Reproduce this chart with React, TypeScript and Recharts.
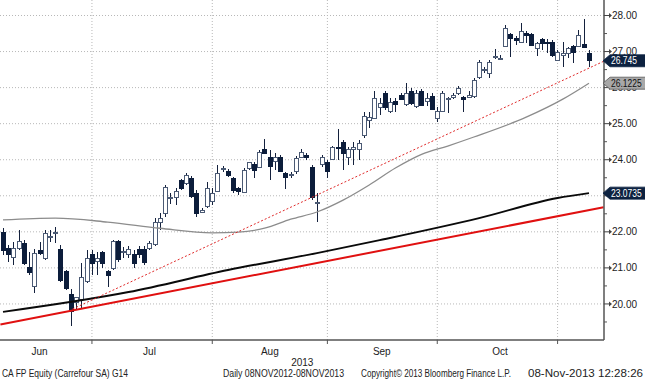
import React from "react";
import {
    ComposedChart,
    Bar,
    Line,
    XAxis,
    YAxis,
    CartesianGrid,
    ReferenceLine,
} from "recharts";

// daily OHLC, CA FP (Carrefour), early Jun -> 08 Nov 2013
const opens = [
    21.97, 21.55, 21.30, 21.55, 21.69, 21.02, 20.47, 21.47, 21.27, 21.83, 21.96, 21.50, 20.89, 20.25, 20.05, 20.11, 20.61,
    21.36, 21.19, 21.44, 20.91, 20.97, 21.72, 21.43, 21.38, 21.36, 21.52, 21.52, 21.55, 21.66, 22.27, 22.52, 22.92, 22.94, 23.41, 23.35, 23.49, 23.05, 22.55, 22.71, 22.85,
    23.13, 23.73, 23.66, 23.49, 23.19, 23.10, 23.77, 23.88, 23.79, 24.27, 24.07, 23.96, 24.07, 23.63, 23.57, 23.66, 24.07, 24.13, 23.79, 22.79, 23.88,
    23.91, 24.02, 24.35, 24.49, 24.07, 24.27, 24.29, 24.68, 25.10, 25.15, 25.46, 25.84, 25.35, 25.62, 25.79, 25.54, 25.90, 25.48, 25.90, 25.62,
    25.76, 25.15, 25.35, 25.67, 25.73, 25.84, 25.73, 25.73, 25.76, 26.29, 26.50, 26.40, 26.86, 26.81, 27.15, 27.48, 27.37, 27.26, 27.51, 27.48, 27.09,
    27.34, 27.26, 27.26, 26.76, 26.90, 26.95, 27.15, 27.15, 27.20, 26.95,
];
const highs = [
    22.10, 21.63, 21.72, 22.05, 21.77, 21.44, 21.52, 21.72, 22.05, 22.05, 22.13, 21.63, 20.94, 20.42, 20.19, 21.13, 21.50,
    21.50, 21.44, 21.46, 20.94, 21.77, 21.77, 21.58, 21.61, 21.50, 21.61, 21.61, 21.74, 22.38, 22.52, 23.30, 23.07, 23.21, 23.46, 23.63, 23.55, 23.16, 22.66, 23.38, 23.21,
    23.85, 23.82, 23.74, 23.52, 23.24, 23.77, 23.93, 23.93, 24.27, 24.57, 24.27, 24.18, 24.13, 23.66, 23.66, 24.10, 24.29, 24.18, 23.85, 23.07, 24.13,
    23.99, 24.38, 24.85, 24.54, 24.35, 24.49, 24.54, 25.32, 25.32, 25.90, 25.71, 25.90, 25.71, 25.71, 25.84, 26.12, 25.98, 25.93, 25.95, 25.84,
    25.84, 25.46, 25.90, 25.73, 25.84, 26.04, 25.76, 25.90, 26.26, 26.76, 26.56, 26.76, 27.06, 26.90, 27.73, 27.51, 27.42, 27.78, 27.56, 27.51, 27.26,
    27.37, 27.34, 27.31, 27.04, 27.26, 27.12, 27.17, 27.59, 27.89, 27.04,
];
const lows = [
    21.36, 21.16, 21.08, 21.50, 21.08, 20.80, 20.30, 21.36, 21.22, 21.72, 21.69, 20.61, 20.39, 19.39, 19.83, 19.89, 20.58,
    20.80, 20.80, 21.00, 20.47, 20.94, 21.16, 21.27, 21.27, 21.00, 21.27, 21.08, 21.50, 21.61, 22.05, 22.41, 22.77, 22.74, 23.16, 23.30, 22.94, 22.41, 22.52, 22.66, 22.74,
    23.10, 23.66, 23.52, 23.07, 23.02, 23.07, 23.71, 23.49, 23.77, 24.15, 23.43, 23.71, 23.66, 23.19, 23.49, 23.60, 24.04, 23.99, 22.88, 22.27, 23.79,
    23.49, 23.99, 23.99, 23.71, 23.85, 23.85, 23.99, 24.60, 24.87, 25.12, 25.23, 25.37, 25.29, 25.32, 25.65, 25.48, 25.51, 25.43, 25.48, 25.48,
    25.37, 25.04, 25.32, 25.29, 25.68, 25.79, 25.32, 25.71, 25.71, 26.23, 26.40, 26.26, 26.79, 26.76, 27.13, 26.84, 27.17, 27.23, 27.23, 27.15, 26.87,
    27.04, 26.95, 26.84, 26.74, 26.56, 26.81, 26.68, 27.12, 27.12, 26.56,
];
const closes = [
    21.49, 21.36, 21.55, 21.72, 21.13, 20.86, 21.41, 21.41, 21.94, 21.86, 21.98, 20.64, 20.42, 19.78, 20.17, 20.72, 21.27,
    21.13, 21.27, 21.13, 20.80, 21.74, 21.22, 21.46, 21.50, 21.13, 21.36, 21.16, 21.69, 22.27, 22.38, 23.24, 22.94, 23.13, 23.19, 23.55, 22.99, 22.52, 22.60, 23.19, 23.07,
    23.63, 23.75, 23.55, 23.16, 23.13, 23.71, 23.91, 23.71, 24.21, 24.18, 23.82, 24.07, 23.68, 23.52, 23.58, 24.04, 24.21, 24.07, 22.94, 22.82, 24.07,
    23.68, 24.35, 24.33, 24.18, 24.29, 24.35, 24.46, 25.21, 25.18, 25.71, 25.57, 25.46, 25.60, 25.54, 25.68, 25.84, 25.57, 25.84, 25.51, 25.71,
    25.40, 25.35, 25.84, 25.69, 25.79, 25.98, 25.68, 25.79, 26.20, 26.70, 26.51, 26.70, 26.87, 26.82, 27.64, 27.37, 27.31, 27.56, 27.45, 27.17, 27.23,
    27.23, 27.23, 26.90, 26.98, 26.95, 27.09, 26.98, 27.45, 27.12, 26.745,
];

// moving averages (bar index -> value)
const grayMaIdx = [0, 10, 20, 30, 40, 45, 50, 55, 60, 65, 70, 75, 80, 85, 90, 100, 107, 112];
const grayMaVal = [22.33, 22.38, 22.27, 22.10, 21.97, 21.99, 22.10, 22.35, 22.55, 22.88, 23.30, 23.77, 24.15, 24.38, 24.63, 25.18, 25.68, 26.1225];
const blackMaIdx = [0, 24, 43, 60, 72, 91, 106, 112];
const blackMaVal = [19.78, 20.33, 20.94, 21.41, 21.77, 22.38, 22.94, 23.0735];

// hand drawn trend lines
const trendSolid = [{ i: -0.5, v: 19.43 }, { i: 114.8, v: 22.68 }];
const trendDotted = [{ i: 13.3, v: 19.86 }, { i: 114.8, v: 26.73 }];

const monthStarts = [17, 40, 62, 83, 106];
const monthNames = ["Jun", "Jul", "Aug", "Sep", "Oct"];
const monthLabelPos = [7.0, 28.0, 51.0, 72.4, 95.0];
const yearLabel = "2013";
const yearLabelPos = 57.2;

const yMajor = [20, 21, 22, 23, 24, 25, 26, 27, 28];
const yMinor = [19.5, 20.5, 21.5, 22.5, 23.5, 24.5, 25.5, 26.5, 27.5];

const tagValues = [26.745, 26.1225, 23.0735];
const tagTexts = ["26.745", "26.1225", "23.0735"];
const tagFills = ["#0d2240", "#a8a8a8", "#0d2240"];
const tagColors = ["#ffffff", "#111111", "#ffffff"];

const rows = opens.map((o, i) => {
    const g = grayMaIdx.indexOf(i);
    const b = blackMaIdx.indexOf(i);
    return {
        i,
        o,
        h: highs[i],
        l: lows[i],
        c: closes[i],
        range: [lows[i], highs[i]],
        gma: g >= 0 ? grayMaVal[g] : null,
        bma: b >= 0 ? blackMaVal[b] : null,
    };
});

const FONT = "Liberation Sans, Arial, sans-serif";

const Candle = (props: any) => {
    const { x, y, width, height, payload } = props;
    const { o, h, l, c } = payload;
    const top = Math.min(y, y + height);
    const span = Math.abs(height);
    const py = (v: number) => (h === l ? top : top + ((h - v) / (h - l)) * span);
    const cx = Math.round(x + width / 2);
    const up = c >= o;
    const bTop = py(Math.max(o, c));
    const bBot = py(Math.min(o, c));
    return (
        <g shapeRendering="crispEdges">
            <line x1={cx + 0.5} x2={cx + 0.5} y1={top} y2={top + span} stroke="#14213d" strokeWidth={1} />
            <rect
                x={cx - 1.5}
                y={bTop}
                width={4}
                height={Math.max(bBot - bTop, 1)}
                fill={up ? "#ffffff" : "#0c1d3b"}
                stroke={up ? "#4b5a74" : "#0c1d3b"}
                strokeWidth={1}
            />
        </g>
    );
};

const XTick = (props: any) => {
    const { x, y, payload } = props;
    const v = payload.value;
    const k = monthLabelPos.indexOf(v);
    if (k >= 0) {
        return (
            <text x={x} y={y + 15} textAnchor="middle" fontSize={10} fill="#222" fontFamily={FONT}>
                {monthNames[k]}
            </text>
        );
    }
    if (v === yearLabelPos) {
        return (
            <text x={x} y={y + 26} textAnchor="middle" fontSize={10} fill="#222" fontFamily={FONT}>
                {yearLabel}
            </text>
        );
    }
    return <line x1={x} x2={x} y1={y} y2={y + 4} stroke="#555" strokeWidth={1} />;
};

// right axis: minor ticks, labelled major ticks, then the price tags drawn last (on top)
const YTick = (props: any) => {
    const { x, y, payload } = props;
    const v = payload.value;
    const t = tagValues.indexOf(v);
    if (t >= 0) {
        const text = tagTexts[t];
        const digits = text.replace(".", "").length;
        return (
            <g>
                <path
                    d={`M${x - 1},${y} L${x + 6},${y - 6} H${x + 44} V${y + 6} H${x + 6} Z`}
                    fill={tagFills[t]}
                    stroke={tagFills[t] === "#a8a8a8" ? "#555" : tagFills[t]}
                    strokeWidth={0.8}
                />
                <text
                    x={x + 7}
                    y={y}
                    dy="0.36em"
                    fontSize={10}
                    fill={tagColors[t]}
                    fontFamily={FONT}
                    textLength={digits * 4.7 + 2.5}
                    lengthAdjust="spacingAndGlyphs"
                >
                    {text}
                </text>
            </g>
        );
    }
    if (yMinor.includes(v)) {
        return <line x1={x} x2={x + 3} y1={y} y2={y} stroke="#555" strokeWidth={1} />;
    }
    return (
        <g>
            <line x1={x} x2={x + 5} y1={y} y2={y} stroke="#444" strokeWidth={1} />
            <path d={`M${x + 5},${y - 2.5}L${x + 8},${y}L${x + 5},${y + 2.5}Z`} fill="#444" />
            <text x={x + 8} y={y} dy="0.36em" fontSize={10} fill="#222" fontFamily={FONT}>
                {v.toFixed(2)}
            </text>
        </g>
    );
};

export default function App() {
    return (
        <div style={{ position: "absolute", left: 0, top: 0, width: 645, height: 380, background: "#fff", fontFamily: FONT }}>
            <ComposedChart width={645} height={380} data={rows} margin={{ top: 0, right: 0, bottom: 0, left: 0 }}>
                <CartesianGrid
                    horizontalValues={yMajor}
                    verticalValues={monthStarts}
                    stroke="#b8b8b8"
                    strokeDasharray="1 2"
                />
                <XAxis
                    dataKey="i"
                    type="number"
                    domain={[-0.573, 114.87]}
                    allowDataOverflow
                    ticks={[...monthStarts, ...monthLabelPos, yearLabelPos]}
                    interval={0}
                    tick={<XTick />}
                    tickLine={false}
                    tickSize={0}
                    tickMargin={0}
                    axisLine={{ stroke: "#555", strokeWidth: 1.5 }}
                    height={40}
                />
                <YAxis
                    orientation="right"
                    type="number"
                    domain={[19.0, 28.43]}
                    allowDataOverflow
                    ticks={[...yMinor, ...yMajor, ...tagValues]}
                    interval={0}
                    tick={<YTick />}
                    tickLine={false}
                    tickSize={0}
                    tickMargin={0}
                    axisLine={{ stroke: "#555", strokeWidth: 1.5 }}
                    width={41}
                />
                <Bar dataKey="range" barSize={5} shape={<Candle />} isAnimationActive={false} />
                <Line
                    dataKey="gma"
                    type="monotone"
                    connectNulls
                    stroke="#8c8c8c"
                    strokeWidth={1.3}
                    dot={false}
                    activeDot={false}
                    isAnimationActive={false}
                />
                <Line
                    dataKey="bma"
                    type="monotone"
                    connectNulls
                    stroke="#0a0a0a"
                    strokeWidth={2}
                    dot={false}
                    activeDot={false}
                    isAnimationActive={false}
                />
                <ReferenceLine
                    segment={trendSolid.map((p) => ({ x: p.i, y: p.v }))}
                    stroke="#e01010"
                    strokeWidth={2}
                />
                <ReferenceLine
                    segment={trendDotted.map((p) => ({ x: p.i, y: p.v }))}
                    stroke="#e02a2a"
                    strokeWidth={1}
                    strokeDasharray="2 2"
                />
            </ComposedChart>
            <svg width={645} height={380} style={{ position: "absolute", left: 0, top: 0, pointerEvents: "none" }}>
                <g fontSize={10} fill="#222" fontFamily={FONT}>
                    <text x={2} y={377} textLength={126} lengthAdjust="spacingAndGlyphs">CA FP Equity (Carrefour SA) G14</text>
                    <text x={223} y={377} textLength={121} lengthAdjust="spacingAndGlyphs">Daily 08NOV2012-08NOV2013</text>
                    <text x={361} y={377} textLength={150} lengthAdjust="spacingAndGlyphs">Copyright© 2013 Bloomberg Finance L.P.</text>
                    <text x={528} y={377} textLength={115} lengthAdjust="spacingAndGlyphs">08-Nov-2013 12:28:26</text>
                </g>
            </svg>
        </div>
    );
}
